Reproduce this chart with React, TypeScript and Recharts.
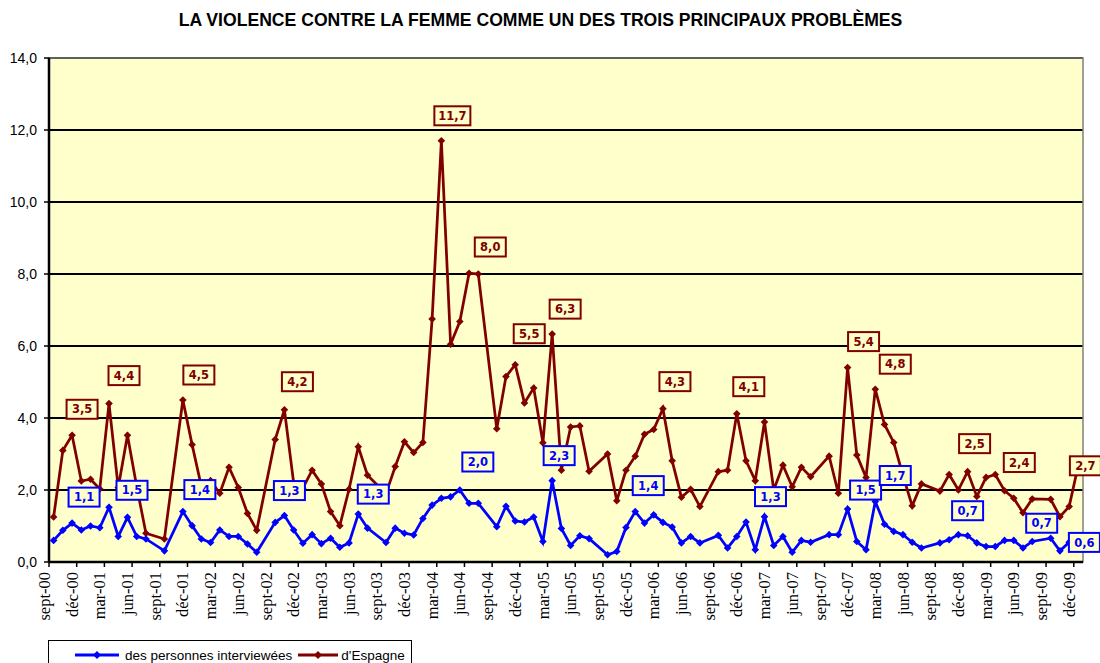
import { CartesianGrid, LabelList, Legend, Line, LineChart, ReferenceArea, XAxis, YAxis } from 'recharts';

// one slot per month, starting sept-00; null = no survey that month
const interviewees: (number | null)[] = [
  0.6, 0.88, 1.08, 0.89, 1.0, 0.95, 1.52, 0.71, 1.24, 0.71, 0.64, null,
  0.31, null, 1.4, 1.01, 0.64, 0.54, 0.89, 0.71, 0.71, 0.5, 0.27, null,
  1.1, 1.29, 0.89, 0.52, 0.76, 0.51, 0.66, 0.41, 0.53, 1.33, 0.94, null,
  0.54, 0.94, 0.8, 0.75, 1.21, 1.58, 1.77, 1.81, 2.0, 1.63, 1.63, null,
  0.98, 1.55, 1.14, 1.11, 1.25, 0.57, 2.26, 0.93, 0.46, 0.73, 0.65, null,
  0.2, 0.29, 0.96, 1.4, 1.08, 1.31, 1.1, 0.97, 0.53, 0.71, 0.53, null,
  0.74, 0.39, 0.71, 1.11, 0.34, 1.26, 0.46, 0.71, 0.27, 0.6, 0.55, null,
  0.76, 0.76, 1.47, 0.57, 0.34, 1.68, 1.05, 0.85, 0.76, 0.55, 0.39, null,
  0.53, 0.62, 0.76, 0.73, 0.53, 0.43, 0.43, 0.6, 0.6, 0.39, 0.57, null,
  0.66, 0.31, 0.55, 0.6,
];

const spain: (number | null)[] = [
  1.25, 3.1, 3.52, 2.25, 2.3, 2.03, 4.4, 2.07, 3.52, 2.1, 0.8, null,
  0.64, null, 4.5, 3.26, 2.1, 2.26, 1.91, 2.63, 2.07, 1.35, 0.88, null,
  3.4, 4.23, 2.2, 2.05, 2.55, 2.17, 1.4, 1.01, 2.02, 3.2, 2.41, null,
  1.9, 2.65, 3.34, 3.04, 3.32, 6.75, 11.7, 6.05, 6.68, 8.02, 8.0, null,
  3.7, 5.15, 5.48, 4.42, 4.83, 3.31, 6.33, 2.55, 3.75, 3.78, 2.52, null,
  3.0, 1.7, 2.55, 2.94, 3.55, 3.68, 4.26, 2.81, 1.8, 2.02, 1.54, null,
  2.51, 2.55, 4.12, 2.81, 2.26, 3.89, 2.0, 2.69, 2.09, 2.63, 2.37, null,
  2.94, 1.91, 5.4, 2.97, 2.35, 4.8, 3.82, 3.32, 2.4, 1.56, 2.17, null,
  1.97, 2.43, 2.0, 2.51, 1.82, 2.35, 2.43, 1.98, 1.77, 1.37, 1.75, null,
  1.74, 1.26, 1.54, 2.7,
];

const tickLabels = [
  'sept-00', 'déc-00',
  'mar-01', 'jun-01', 'sept-01', 'déc-01',
  'mar-02', 'jun-02', 'sept-02', 'déc-02',
  'mar-03', 'jun-03', 'sept-03', 'déc-03',
  'mar-04', 'jun-04', 'sept-04', 'déc-04',
  'mar-05', 'jun-05', 'sept-05', 'déc-05',
  'mar-06', 'jun-06', 'sept-06', 'déc-06',
  'mar-07', 'jun-07', 'sept-07', 'déc-07',
  'mar-08', 'jun-08', 'sept-08', 'déc-08',
  'mar-09', 'jun-09', 'sept-09', 'déc-09',
];

const yTicks = [0, 2, 4, 6, 8, 10, 12, 14];

// which months carry a value box, and where the box sits relative to the point
const blueBoxes: Record<number, [number, number]> = {
  2: [12, -26], 6: [23, -17], 14: [17, -22], 25: [5, -25], 33: [15, -20],
  44: [18, -28], 54: [7, -25], 63: [13, -26], 77: [6, -20], 86: [18, -19],
  89: [20, -26], 99: [0, -25], 108: [-9, -15], 111: [6, 2],
};
const redBoxes: Record<number, [number, number]> = {
  2: [10, -26], 6: [15, -28], 14: [16, -25], 25: [13, -28], 42: [11, -25],
  46: [12, -27], 50: [14, -31], 54: [13, -25], 66: [12, -27], 74: [12, -27],
  86: [16, -26], 89: [20, -25], 99: [7, -28], 102: [24, -12], 111: [7, 1],
};

const BLUE = '#0000FF';
const RED = '#800000';
const PLOT_BG = '#FFFFCC';

const rows = interviewees
  .map((v, i) => ({
    m: i,
    t: i + 0.5,
    interviewees: v,
    spain: spain[i],
    blueLabel: blueBoxes[i] ? v : null,
    redLabel: redBoxes[i] ? spain[i] : null,
  }))
  .filter((r) => r.interviewees !== null || r.spain !== null);

const xTicks = tickLabels.map((_, i) => i * 3);

const fmt = (v: number) => v.toFixed(1).replace('.', ',');

function diamond(color: string) {
  return (props: any) => {
    const { cx, cy, index } = props;
    if (cx == null || cy == null) return <g key={index} />;
    const r = 3.8;
    return (
      <polygon
        key={index}
        points={`${cx},${cy - r} ${cx + r},${cy} ${cx},${cy + r} ${cx - r},${cy}`}
        fill={color}
      />
    );
  };
}

function valueBox(boxes: Record<number, [number, number]>, color: string) {
  return (props: any) => {
    const { x, y, value, index } = props;
    if (value == null || x == null) return null;
    const off = boxes[rows[index].m];
    if (!off) return null;
    const text = fmt(Number(value));
    const w = text.length > 3 ? 36 : 31;
    const h = 19;
    const cx = x + off[0];
    const cy = y + off[1];
    return (
      <g>
        <rect x={cx - w / 2} y={cy - h / 2} width={w} height={h} fill={PLOT_BG} stroke={color} strokeWidth={2} />
        <text
          x={cx}
          y={cy}
          dy="0.36em"
          textAnchor="middle"
          fill={color}
          fontFamily="DejaVu Sans"
          fontWeight="bold"
          fontSize={11.5}
        >
          {text}
        </text>
      </g>
    );
  };
}

function MonthTick(props: any) {
  const { x, y, payload } = props;
  const label = tickLabels[Math.round(payload.value / 3)];
  return (
    <text
      transform={`translate(${x + 1},${y + 3}) rotate(-90)`}
      textAnchor="end"
      fill="#000"
      fontFamily="Liberation Serif"
      fontSize={16.5}
    >
      {label}
    </text>
  );
}

function LegendBox() {
  const item = (color: string, w: number) => (
    <svg width={w} height={12} style={{ display: 'block', flexShrink: 0 }}>
      <line x1={0} y1={6} x2={w} y2={6} stroke={color} strokeWidth={3} />
      <polygon points={`${w / 2},2 ${w / 2 + 4},6 ${w / 2},10 ${w / 2 - 4},6`} fill={color} />
    </svg>
  );
  return (
    <div
      style={{
        border: '1px solid #000',
        boxSizing: 'border-box',
        height: 30,
        width: 364,
        background: '#fff',
        display: 'flex',
        alignItems: 'center',
        paddingLeft: 26,
        fontFamily: 'Liberation Sans',
        fontSize: 13.5,
        color: '#000',
        whiteSpace: 'nowrap',
        overflow: 'hidden',
      }}
    >
      {item(BLUE, 44)}
      <span style={{ marginLeft: 6, flexShrink: 0 }}>des personnes interviewées</span>
      <span style={{ marginLeft: 6, flexShrink: 0 }}>{item(RED, 40)}</span>
      <span style={{ marginLeft: 3, flexShrink: 0 }}>d'Espagne</span>
    </div>
  );
}

export default function App() {
  return (
    <div style={{ position: 'absolute', left: 0, top: 0, width: 1100, height: 663, background: '#fff', overflow: 'hidden' }}>
      <div
        style={{
          position: 'absolute',
          top: 10,
          left: 0,
          width: 1081,
          textAlign: 'center',
          fontFamily: 'Liberation Sans',
          fontWeight: 'bold',
          fontSize: 17.6,
          color: '#000',
        }}
      >
        LA VIOLENCE CONTRE LA FEMME COMME UN DES TROIS PRINCIPAUX PROBLÈMES
      </div>
      <LineChart width={1100} height={663} data={rows} margin={{ top: 58, right: 17, left: 0, bottom: 31 }}>
        <CartesianGrid vertical={false} stroke="#000" strokeWidth={2} fill={PLOT_BG} />
        <ReferenceArea x1={0} x2={112} y1={0} y2={14} fill="none" stroke="#808080" strokeWidth={1.5} />
        <XAxis
          type="number"
          dataKey="t"
          domain={[0, 112]}
          ticks={xTicks}
          interval={0}
          height={70}
          tick={<MonthTick />}
          tickSize={5}
          axisLine={{ stroke: '#000', strokeWidth: 2.5 }}
          tickLine={{ stroke: '#000', strokeWidth: 1.5 }}
        />
        <YAxis
          type="number"
          domain={[0, 14]}
          ticks={yTicks}
          interval={0}
          width={49}
          tickFormatter={fmt}
          tick={{ fill: '#000', fontSize: 14, fontFamily: 'Liberation Sans' }}
          tickSize={5}
          tickMargin={7}
          axisLine={{ stroke: '#000', strokeWidth: 2.5 }}
          tickLine={{ stroke: '#000', strokeWidth: 1.5 }}
        />
        <Legend
          layout="horizontal"
          verticalAlign="middle"
          align="center"
          wrapperStyle={{ left: 48, top: 640, width: 364 }}
          content={() => <LegendBox />}
        />
        <Line
          type="linear"
          dataKey="spain"
          name="d'Espagne"
          stroke={RED}
          strokeWidth={2.75}
          dot={diamond(RED)}
          activeDot={false}
          isAnimationActive={false}
        >
          <LabelList dataKey="redLabel" content={valueBox(redBoxes, RED)} />
        </Line>
        <Line
          type="linear"
          dataKey="interviewees"
          name="des personnes interviewées"
          stroke={BLUE}
          strokeWidth={2.75}
          dot={diamond(BLUE)}
          activeDot={false}
          isAnimationActive={false}
        >
          <LabelList dataKey="blueLabel" content={valueBox(blueBoxes, BLUE)} />
        </Line>
      </LineChart>
    </div>
  );
}
